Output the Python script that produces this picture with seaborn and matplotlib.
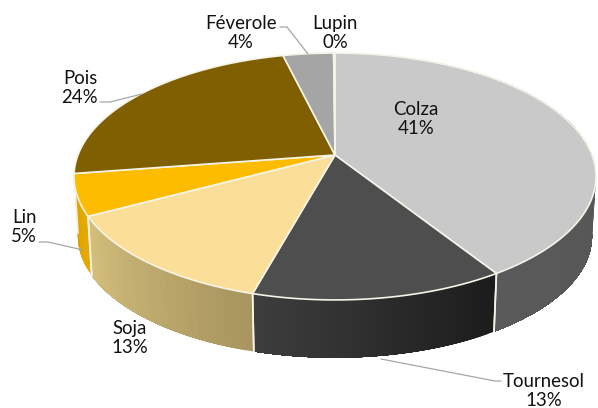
import numpy as np
import seaborn as sns
import matplotlib
matplotlib.use('Agg')
import matplotlib.pyplot as plt

crops = ['Colza', 'Tournesol', 'Soja', 'Lin', 'Pois', 'Féverole', 'Lupin']
shares = [41.0, 13.3, 12.9, 5.4, 23.6, 3.7, 0.1]
top_colors = ['#c9c9c9', '#4e4e4e', '#fbdf98', '#fdbc00', '#7f5f00', '#a5a5a5', '#bdbdbd']
wall_left = ['#4f4f4f', '#3d3d3d', '#d4bf7c', '#d99f00', '#7f5f00', '#a5a5a5', '#bdbdbd']
wall_right = ['#5a5a5a', '#1c1c1c', '#a8955f', '#e6aa00', '#7f5f00', '#a5a5a5', '#bdbdbd']

# label centre and leader line, in picture pixels
label_xy = [(416, 119), (544, 391), (130, 338), (24, 227), (80, 88), (241, 33), (335, 33)]
leaders = {
    'Tournesol': [(381, 359), (495, 381), (501, 381)],
    'Lin': [(39, 242), (48, 242), (83, 250)],
    'Pois': [(100, 102), (110, 102), (142, 94)],
    'Féverole': [(280, 27), (287, 27), (308, 54)],
}

# pie perspective
CX, CY = 335, 155
A, B, K = 257.0, 119.7, 0.174
DEPTH, SHRINK = 60, 0.985
EDGE = '#f6f3e8'


def rim(theta, low=False):
    # theta clockwise from the top, radians
    u, v = np.sin(theta), np.cos(theta)
    w = 1 + K * v
    x, y = A * u / w, -B * v / w
    if low:
        return CX + SHRINK * x, CY + SHRINK * y + DEPTH
    return CX + x, CY + y


sns.set_style('white')
plt.rcParams['font.family'] = ['Lato', 'DejaVu Sans']

fig = plt.figure(figsize=(5.98, 4.08), dpi=100)
ax = fig.add_axes([0, 0, 1, 1])
ax.set_xlim(0, 598)
ax.set_ylim(408, 0)
ax.axis('off')

edges = np.cumsum([0] + shares) / sum(shares) * 2 * np.pi

# side wall, drawn from the back slices to the front ones
for i in [3, 2, 0, 1]:
    steps = max(int((edges[i + 1] - edges[i]) * 40), 4)
    cols = sns.blend_palette([wall_left[i], wall_right[i]], steps)
    # the left to right gradient runs against the clockwise angle on the front
    if crops[i] in ('Tournesol', 'Soja', 'Lin'):
        cols = cols[::-1]
    bounds = np.linspace(edges[i], edges[i + 1], steps + 1)
    # each step runs on to the slice end, the next one paints over it, so no seams
    for j in range(steps):
        t = np.linspace(bounds[j], edges[i + 1], 6 + 2 * (steps - j))
        xt, yt = rim(t)
        xb, yb = rim(t, low=True)
        ax.fill(np.r_[xt, xb[::-1]], np.r_[yt, yb[::-1]], color=cols[j], lw=0, zorder=2 + i * 0.01)
    # white split at the slice end
    for a in (edges[i], edges[i + 1]):
        if np.cos(a) < 0:
            xt, yt = rim(a)
            xb, yb = rim(a, low=True)
            ax.plot([xt, xb], [yt, yb], color=EDGE, lw=1.2, zorder=3)

# top surface
for i in range(len(crops)):
    t = np.linspace(edges[i], edges[i + 1], 80)
    x, y = rim(t)
    ax.fill(np.r_[CX, x], np.r_[CY, y], facecolor=top_colors[i], edgecolor=EDGE, lw=1.2,
            joinstyle='round', zorder=4)

for name, pts in leaders.items():
    ax.plot(*zip(*pts), color='#a6a6a6', lw=0.9, zorder=5)

for name, val, (lx, ly) in zip(crops, shares, label_xy):
    ax.text(lx, ly, f'{name}\n{val:.0f}%', ha='center', va='center', fontsize=13.4,
            color='#111111', linespacing=1.2, zorder=6)

fig.savefig('out.png', dpi=100)
plt.close(fig)
